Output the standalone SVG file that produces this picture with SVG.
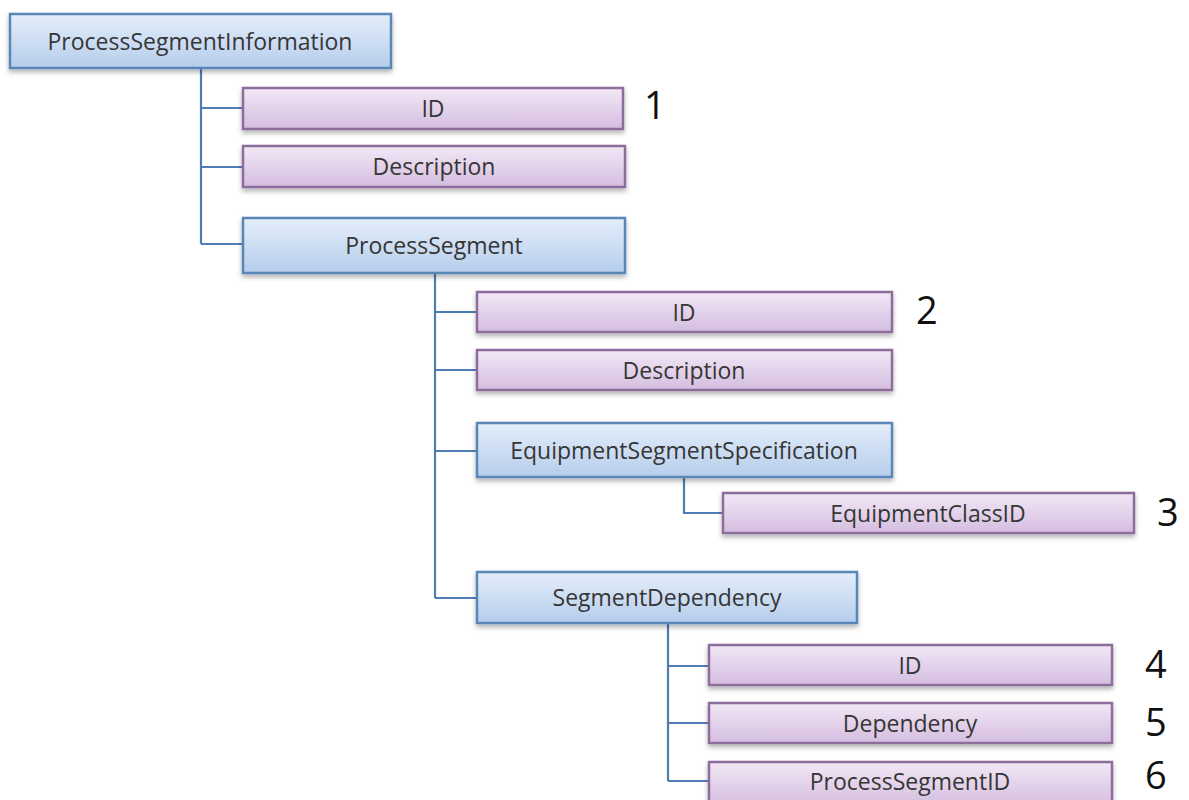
<svg xmlns="http://www.w3.org/2000/svg" width="1189" height="800" viewBox="0 0 1189 800">
<style>
.blue{fill:url(#gb);stroke:#5a86b8;stroke-width:2.5}
.purp{fill:url(#gp);stroke:#8c6d9c;stroke-width:2.5}
.t{font-family:"Open Sans","Liberation Sans",sans-serif;font-size:23px;fill:#363636;text-anchor:middle;dominant-baseline:central}
.n{font-family:"Open Sans","Liberation Sans",sans-serif;font-size:38px;fill:#111;dominant-baseline:central}
.c{fill:none;stroke:#4e7db3;stroke-width:2.2}
</style>
<defs>
<linearGradient id="gb" x1="0" y1="0" x2="0" y2="1"><stop offset="0" stop-color="#e4eefa"/><stop offset="1" stop-color="#b6cdec"/></linearGradient>
<linearGradient id="gp" x1="0" y1="0" x2="0" y2="1"><stop offset="0" stop-color="#f3e8f6"/><stop offset="1" stop-color="#d4bde0"/></linearGradient>
<filter id="sh" x="-5%" y="-20%" width="110%" height="160%"><feDropShadow dx="0" dy="3" stdDeviation="2.5" flood-color="#000" flood-opacity="0.3"/></filter>
</defs>
<g id="connectors">
<path class="c" d="M201 68V244M201 108H243M201 167H243M201 244H243"/>
<path class="c" d="M435 273V598M435 312H477M435 370H477M435 451H477M435 598H477"/>
<path class="c" d="M684 477V513H723"/>
<path class="c" d="M668 623V781M668 666H709M668 723H709M668 781H709"/>
</g>
<g id="n-psi"><rect class="blue" filter="url(#sh)" x="10" y="14" width="381" height="54"/><text class="t" x="200" y="41">ProcessSegmentInformation</text></g>
<g id="n-id1"><rect class="purp" filter="url(#sh)" x="243" y="88" width="380" height="41"/><text class="t" x="433" y="108">ID</text></g>
<g id="n-desc1"><rect class="purp" filter="url(#sh)" x="243" y="146" width="382" height="41"/><text class="t" x="434" y="166">Description</text></g>
<g id="n-ps"><rect class="blue" filter="url(#sh)" x="243" y="218" width="382" height="55"/><text class="t" x="434" y="245">ProcessSegment</text></g>
<g id="n-id2"><rect class="purp" filter="url(#sh)" x="477" y="292" width="415" height="40"/><text class="t" x="684" y="312">ID</text></g>
<g id="n-desc2"><rect class="purp" filter="url(#sh)" x="477" y="350" width="415" height="40"/><text class="t" x="684" y="370">Description</text></g>
<g id="n-ess"><rect class="blue" filter="url(#sh)" x="477" y="423" width="415" height="54"/><text class="t" x="684" y="450">EquipmentSegmentSpecification</text></g>
<g id="n-ecid"><rect class="purp" filter="url(#sh)" x="723" y="493" width="411" height="40"/><text class="t" x="928" y="513">EquipmentClassID</text></g>
<g id="n-sd"><rect class="blue" filter="url(#sh)" x="477" y="572" width="380" height="51"/><text class="t" x="667" y="597">SegmentDependency</text></g>
<g id="n-id4"><rect class="purp" filter="url(#sh)" x="709" y="645" width="403" height="40"/><text class="t" x="910" y="665">ID</text></g>
<g id="n-dep"><rect class="purp" filter="url(#sh)" x="709" y="703" width="403" height="40"/><text class="t" x="910" y="723">Dependency</text></g>
<g id="n-psid"><rect class="purp" filter="url(#sh)" x="709" y="762" width="403" height="44"/><text class="t" x="910" y="781">ProcessSegmentID</text></g>
<g id="labels">
<text class="n" x="644" y="104">1</text>
<text class="n" x="916" y="309">2</text>
<text class="n" x="1157" y="511">3</text>
<text class="n" x="1145" y="663">4</text>
<text class="n" x="1145" y="721">5</text>
<text class="n" x="1145" y="774">6</text>
</g>
</svg>
